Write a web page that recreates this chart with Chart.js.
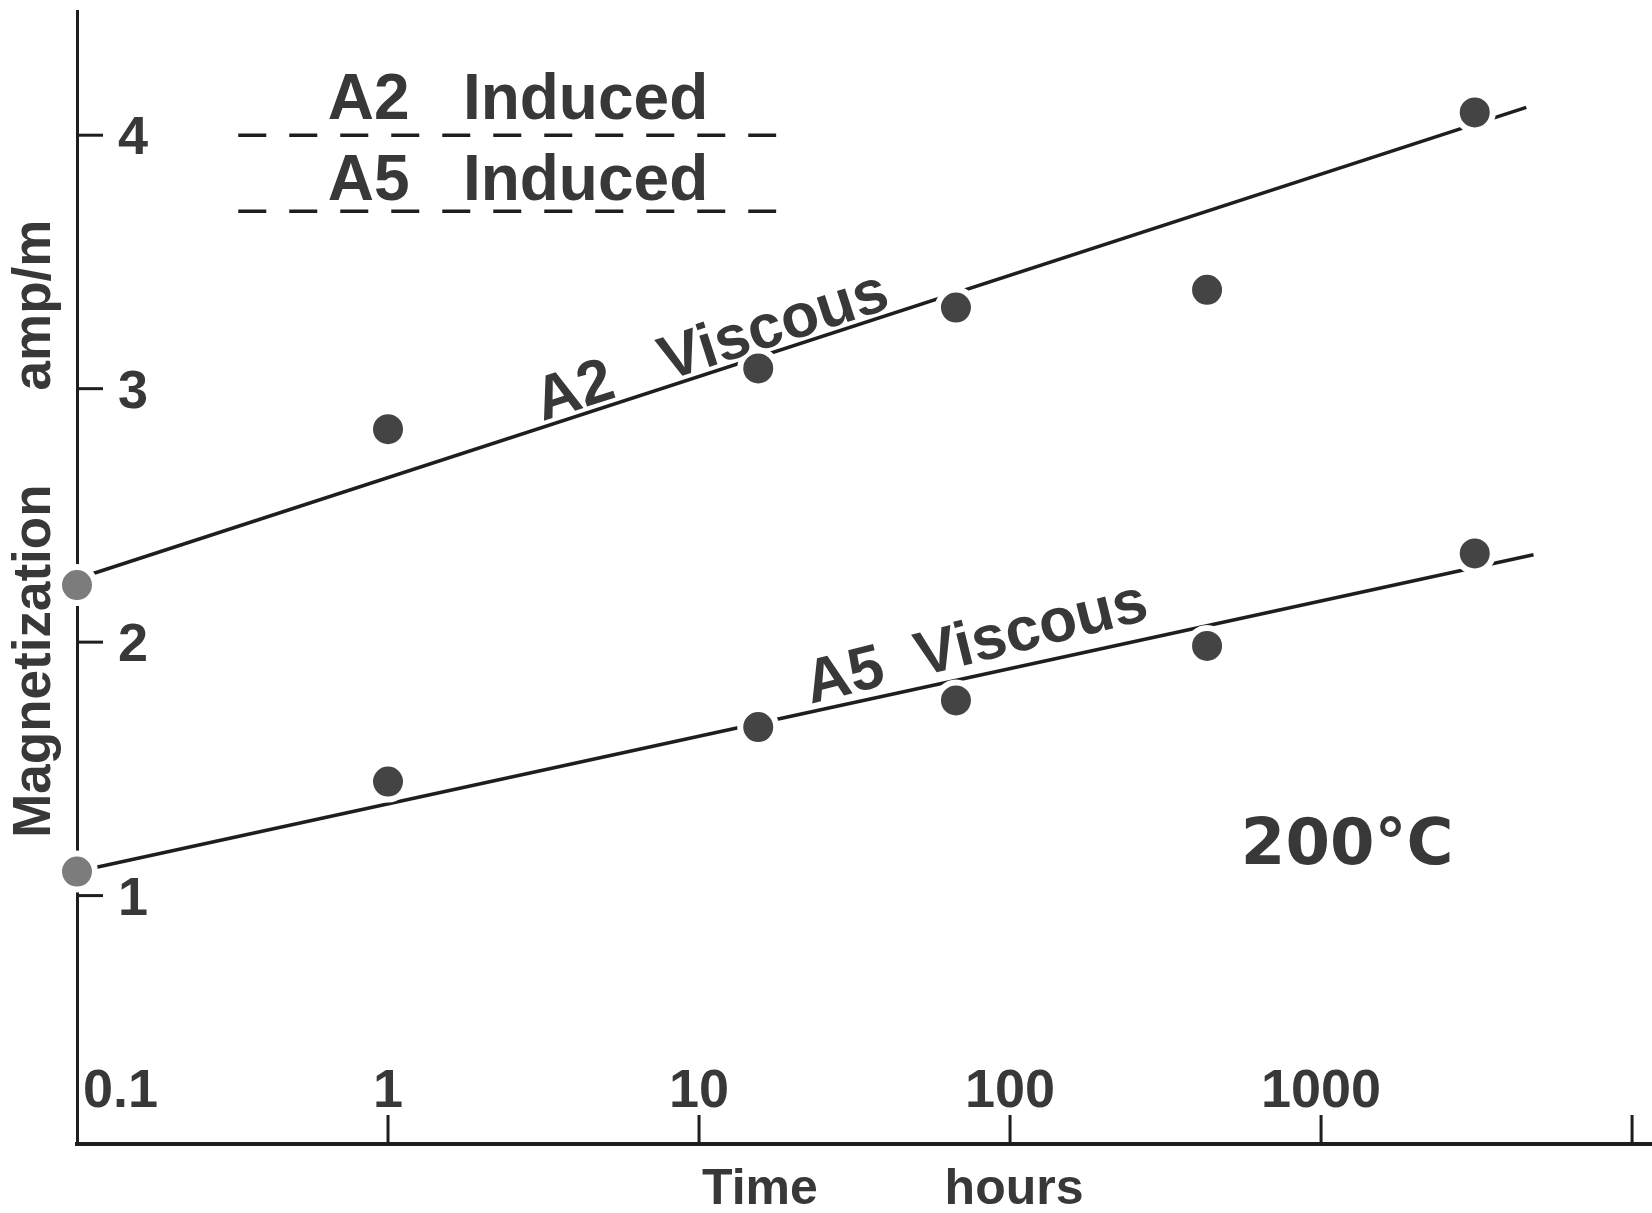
<!DOCTYPE html>
<html lang="en">
<head>
  <meta charset="UTF-8">
  <title>Magnetization vs Time, 200°C</title>
  <script src="https://cdn.jsdelivr.net/npm/chart.js"></script>
  <style>
    html, body { margin: 0; padding: 0; background: #fff; }
    canvas { display: block; }
  </style>
</head>
<body>

  <canvas id="grafiku" width="1652" height="1213"></canvas>

  <script>
    // koha (ore) per cdo matje
    const hours = [0.1, 1, 15.5, 67, 430, 3120];
    const a2Viscous = [2.225, 2.84, 3.08, 3.32, 3.39, 4.09];
    const a5Viscous = [1.095, 1.45, 1.665, 1.77, 1.985, 2.35];

    // drejtezat e pershtatura (dy pika secila)
    const a2FitHours = [0.1, 4570];
    const a2Fit = [2.25, 4.11];
    const a5FitHours = [0.1, 4820];
    const a5Fit = [1.095, 2.345];

    // vijat e nderprera "Induced"
    const inducedHours = [0.33, 17.7];
    const a2Induced = [4.0, 4.0];
    const a5Induced = [3.70, 3.70];

    // etiketat e boshteve
    const xTickValues = [0.1, 1, 10, 100, 1000, 10000];
    const xTickLabels = ['0.1', '1', '10', '100', '1000', ''];
    const yTickValues = [1, 2, 3, 4];
    const yTickLabels = ['1', '2', '3', '4'];

    const FONT = '"Liberation Sans", Arial, sans-serif';
    const TEXT = '#383838';
    const INK = '#1e1e1e';

    const pairs = (xs, ys) => xs.map((x, i) => ({x, y: ys[i]}));

    // tekstet mbi grafik, te ankoruara ne vlerat e boshteve
    const shenime = [
      {text: 'A2   Induced', x: 0.64, y: 4.064, size: 64, align: 'left', rot: 0},
      {text: 'A5   Induced', x: 0.64, y: 3.744, size: 64, align: 'left', rot: 0},
      {text: 'A2   Viscous', x: 11.0, y: 3.16, size: 62, align: 'center', rot: -18, mid: true},
      {text: 'A5  Viscous', x: 78, y: 1.99, size: 62, align: 'center', rot: -14, mid: true},
      {text: '200°C', x: 1213, y: 1.125, size: 64, align: 'center', rot: 0, font: '"DejaVu Sans", sans-serif'}
    ];

    const plugini = {
      id: 'shenimet',
      afterDatasetsDraw(chart) {
        const {ctx, chartArea: ca, scales: {x, y}} = chart;
        ctx.save();
        ctx.strokeStyle = INK;
        ctx.fillStyle = TEXT;
        ctx.lineWidth = 3;

        // vizat e boshtit y dhe numrat
        ctx.font = 'bold 54px ' + FONT;
        ctx.textAlign = 'left';
        ctx.textBaseline = 'alphabetic';
        yTickValues.forEach((v, i) => {
          const py = y.getPixelForValue(v);
          ctx.beginPath();
          ctx.moveTo(ca.left, py);
          ctx.lineTo(ca.left + 26, py);
          ctx.stroke();
          ctx.fillText(yTickLabels[i], ca.left + 41, py + 19);
        });

        // vizat e boshtit x dhe numrat
        xTickValues.forEach((v, i) => {
          const px = x.getPixelForValue(v);
          if (i > 0) {
            ctx.beginPath();
            ctx.moveTo(px, ca.bottom);
            ctx.lineTo(px, ca.bottom - 29);
            ctx.stroke();
          }
          if (!xTickLabels[i]) return;
          ctx.textAlign = i === 0 ? 'left' : 'center';
          ctx.fillText(xTickLabels[i], i === 0 ? px + 6 : px, ca.bottom - 37);
        });

        // titujt e boshteve
        ctx.font = 'bold 50px ' + FONT;
        ctx.textAlign = 'center';
        ctx.fillText('Time', x.getPixelForValue(15.7), ca.bottom + 60);
        ctx.fillText('hours', x.getPixelForValue(103), ca.bottom + 60);

        ctx.font = 'bold 53px ' + FONT;
        [['Magnetization', 1.925], ['amp/m', 3.33]].forEach(([t, v]) => {
          ctx.save();
          ctx.translate(ca.left - 27, y.getPixelForValue(v));
          ctx.rotate(-Math.PI / 2);
          ctx.fillText(t, 0, 0);
          ctx.restore();
        });

        // shenimet brenda grafikut
        shenime.forEach(s => {
          ctx.save();
          ctx.translate(x.getPixelForValue(s.x), y.getPixelForValue(s.y));
          ctx.rotate(s.rot * Math.PI / 180);
          ctx.font = 'bold ' + s.size + 'px ' + (s.font || FONT);
          ctx.textAlign = s.align;
          ctx.textBaseline = s.mid ? 'middle' : 'alphabetic';
          ctx.fillText(s.text, 0, 0);
          ctx.restore();
        });

        ctx.restore();
      }
    };

    const pika = (data) => ({
      data,
      showLine: false,
      pointRadius: 18,
      pointHoverRadius: 18,
      pointBorderWidth: 6,
      pointHoverBorderWidth: 6,
      pointBorderColor: '#ffffff',
      pointBackgroundColor: c => c.dataIndex === 0 ? '#7c7c7c' : '#444444',
      clip: false,
      order: 0
    });

    const vije = (data, dash) => ({
      data,
      showLine: true,
      borderColor: INK,
      borderWidth: 3.5,
      borderDash: dash || [],
      pointRadius: 0,
      clip: false,
      order: 1
    });

    new Chart(document.getElementById('grafiku'), {
      type: 'scatter',
      data: {
        datasets: [
          Object.assign(pika(pairs(hours, a2Viscous)), {label: 'A2 Viscous'}),
          Object.assign(pika(pairs(hours, a5Viscous)), {label: 'A5 Viscous'}),
          Object.assign(vije(pairs(a2FitHours, a2Fit)), {label: 'A2 fit'}),
          Object.assign(vije(pairs(a5FitHours, a5Fit)), {label: 'A5 fit'}),
          Object.assign(vije(pairs(inducedHours, a2Induced), [28, 23]), {label: 'A2 Induced'}),
          Object.assign(vije(pairs(inducedHours, a5Induced), [28, 23]), {label: 'A5 Induced'})
        ]
      },
      options: {
        responsive: false,
        animation: false,
        layout: {autoPadding: false, padding: {left: 77, right: 0, top: 11, bottom: 69}},
        plugins: {legend: {display: false}, tooltip: {enabled: false}},
        scales: {
          x: {
            type: 'logarithmic',
            min: 0.1,
            max: 11590,
            ticks: {display: false},
            grid: {display: false, drawTicks: false},
            border: {display: true, color: INK, width: 4}
          },
          y: {
            type: 'linear',
            min: 0.02,
            max: 4.49,
            ticks: {display: false},
            grid: {display: false, drawTicks: false},
            border: {display: true, color: INK, width: 3}
          }
        }
      },
      plugins: [plugini]
    });
  </script>

</body>
</html>
